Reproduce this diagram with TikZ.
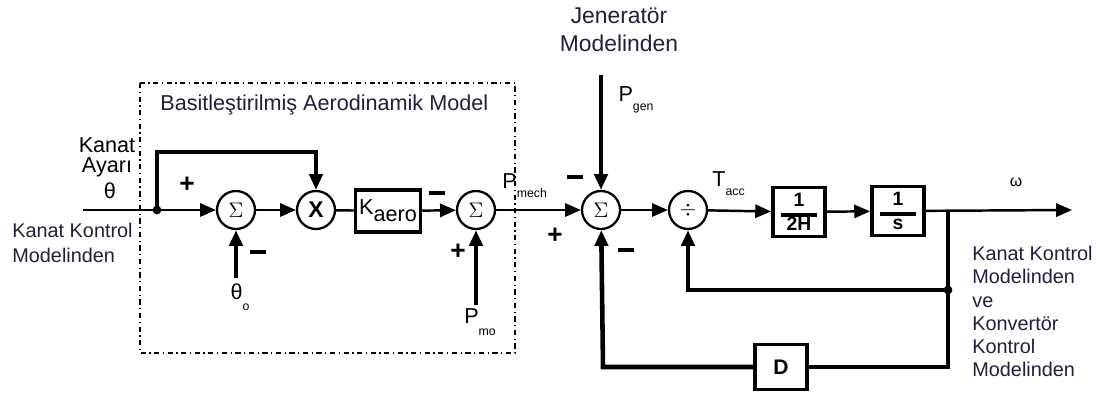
\documentclass[tikz,border=0pt]{standalone}
\usepackage{fontspec}
\setmainfont{Liberation Sans}
\usetikzlibrary{arrows.meta, positioning}
\definecolor{lblInk}{RGB}{35,30,60}

\begin{document}
\begin{tikzpicture}[
    x=0.02cm, y=-0.02cm,
    font=\fontsize{12.3}{14.5}\selectfont,
    sumnode/.style={circle, draw, line width=1.3pt, minimum size=0.76cm, inner sep=0pt, font=\fontsize{13}{14}\selectfont},
    gainbox/.style={rectangle, draw, line width=2.2pt, minimum width=1.04cm, minimum height=0.98cm, inner sep=1pt, align=center, font=\fontsize{11}{12}\selectfont\bfseries},
    sig/.style={line width=1.4pt},
    fb/.style={line width=2.6pt},
    lbl/.style={text=lblInk, align=left, inner sep=0pt},
    sgn/.style={font=\fontsize{15}{15}\selectfont\bfseries, inner sep=0pt},
    >={Triangle[length=9pt, width=7.5pt]}
]
\useasboundingbox (0,0) rectangle (1106,396);

% dashed frame of the simplified aerodynamic model
\draw[line width=0.7pt, dash dot] (140,83) rectangle (515,353);
\node[lbl, anchor=west] (ttl) at (160,105) {Basitleştirilmiş Aerodinamik Model};

% blocks
\node[sumnode] (s1) at (236,210) {$\Sigma$};
\node[sumnode] (mx) at (316,210) {\textbf{X}};
\node[gainbox, minimum width=1.3cm, minimum height=0.84cm, line width=2pt, font=\fontsize{12.3}{14}\selectfont] (ka) at (388,211) {K\raisebox{-0.6ex}{aero}};
\node[sumnode] (s2) at (476,210) {$\Sigma$};
\node[sumnode] (s3) at (601,210) {$\Sigma$};
\node[sumnode] (s4) at (688,210) {$\div$};
\node[gainbox] (g1) at (799,212) {1\\[-6pt]\rule{0.72cm}{2.4pt}\\[-4pt]2H};
\node[gainbox] (g2) at (898,211) {1\\[-6pt]\rule{0.72cm}{2.4pt}\\[-4pt]s};
\node[rectangle, draw, line width=1.8pt, minimum width=1.04cm, minimum height=0.9cm, font=\fontsize{12}{14}\selectfont\bfseries] (dd) at (781,367) {D};

% junctions and free ends
\coordinate (in) at (83,210);
\coordinate (jn) at (157,210);
\coordinate (jt) at (157,152);
\coordinate (mt) at (316,152);
\coordinate (th0) at (236,278);
\coordinate (pm0) at (476,305);
\coordinate (pg0) at (601,75);
\coordinate (br) at (948,210);
\coordinate (dt) at (948,290);
\coordinate (bt) at (948,367);
\coordinate (lc) at (603,367);
\coordinate (out) at (1072,210);
\fill (jn) circle (2.5pt);
\fill (dt) circle (2.5pt);

% forward path
\draw[sig, ->] (in) -- (s1);
\draw[sig, ->] (s1) -- (mx);
\draw[sig] (mx) -- (ka);
\draw[sig, ->] (ka) -- (s2);
\draw[sig, ->] (s2) -- (s3);
\draw[sig, ->] (s3) -- (s4);
\draw[sig, ->] (s4) -- (g1);
\draw[sig, ->] (g1) -- (g2);
\draw[sig, ->] (g2) -- (out);

% side inputs
\draw[fb, ->] (jn) -- (jt) -- (mt) -- (mx);
\draw[fb, ->] (th0) -- (s1);
\draw[fb, ->] (pm0) -- (s2);
\draw[fb, ->] (pg0) -- (s3);

% feedback loops
\draw[fb, ->] (br) -- (dt) -- (dt -| s4) -- (s4);
\draw[fb] (dt) -- (bt) -- (dd);
\draw[fb, ->] (dd) -- (lc) -- (s3);

% signs
\node[sgn] (p1) at (187,185) {+};
\node[sgn] (m1) at (258,252) {\rule{9pt}{2.4pt}};
\node[sgn] (m2) at (437,193) {\rule{9pt}{2.4pt}};
\node[sgn] (p2) at (458,252) {+};
\node[sgn] (m3) at (575,177) {\rule{9pt}{2.4pt}};
\node[sgn] (p3) at (555,236) {+};
\node[sgn] (m4) at (626,250) {\rule{9pt}{2.4pt}};

% signal labels
\node[inner sep=0pt] (kay) at (107,157) {\shortstack{Kanat\\Ayarı}};
\node[inner sep=0pt] (th) at (110,191) {θ};
\node[lbl, anchor=west, font=\fontsize{11.3}{14}\selectfont] (kkm) at (12,243) {Kanat Kontrol\\Modelinden};
\node[inner sep=0pt] (tho) at (240,297) {θ\raisebox{-1ex}{\scriptsize o}};
\node[inner sep=0pt] (pmo) at (480,322) {P\raisebox{-1ex}{\scriptsize mo}};
\node[inner sep=0pt, anchor=west] (pme) at (502,186) {P\raisebox{-0.8ex}{\scriptsize mech}};
\node[lbl, align=center, font=\fontsize{13}{16}\selectfont] (jen) at (619,30) {Jeneratör\\Modelinden};
\node[inner sep=0pt] (pge) at (636,100) {P\raisebox{-0.8ex}{\scriptsize gen}};
\node[inner sep=0pt, anchor=west] (tac) at (712,184) {T\raisebox{-0.8ex}{\scriptsize acc}};
\node[inner sep=0pt] (om) at (1016,182) {\small ω};
\node[lbl, anchor=north west, font=\fontsize{11.3}{13.2}\selectfont] (kvm) at (972,246) {Kanat Kontrol\\Modelinden\\ve\\Konvertör\\Kontrol\\Modelinden};
\end{tikzpicture}
\end{document}
